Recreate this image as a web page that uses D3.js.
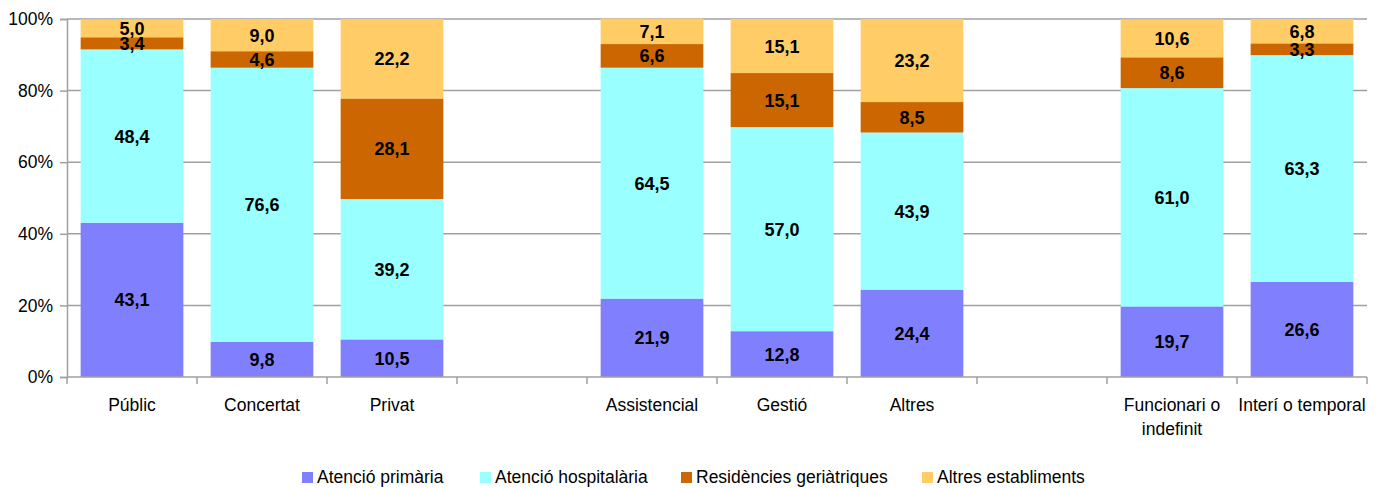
<!DOCTYPE html>
<html>
<head>
<meta charset="utf-8">
<script src="https://cdn.jsdelivr.net/npm/d3@7"></script>
<style>
  body { margin: 0; background: #fff; }
  text { font-family: "Liberation Sans", Arial, sans-serif; }
</style>
</head>
<body>
<svg id="chart"></svg>
<script>
// categories (empty strings are the gaps between groups)
const categories = ["Públic", "Concertat", "Privat", "", "Assistencial", "Gestió", "Altres", "", "Funcionari o|indefinit", "Interí o temporal"];
const seriesNames = ["Atenció primària", "Atenció hospitalària", "Residències geriàtriques", "Altres establiments"];
const primaria = [43.1, 9.8, 10.5, null, 21.9, 12.8, 24.4, null, 19.7, 26.6];
const hospitalaria = [48.4, 76.6, 39.2, null, 64.5, 57.0, 43.9, null, 61.0, 63.3];
const residencies = [3.4, 4.6, 28.1, null, 6.6, 15.1, 8.5, null, 8.6, 3.3];
const altres = [5.0, 9.0, 22.2, null, 7.1, 15.1, 23.2, null, 10.6, 6.8];
const yTicks = [0, 20, 40, 60, 80, 100];
const colors = ["#8080ff", "#99ffff", "#cc6600", "#ffcc66"];

const width = 1376, height = 488;
const margin = { top: 19, right: 9, bottom: 111, left: 67 };

const svg = d3.select("#chart").attr("width", width).attr("height", height);

const x = d3.scaleBand()
    .domain(d3.range(categories.length))
    .range([margin.left, width - margin.right])
    .paddingInner(0.21)
    .paddingOuter(0.105);

const y = d3.scaleLinear().domain([0, 100]).range([height - margin.bottom, margin.top]);

// gridlines
svg.append("g")
    .selectAll("line")
    .data(yTicks.filter(d => d > 0))
    .join("line")
    .attr("x1", margin.left)
    .attr("x2", width - margin.right)
    .attr("y1", d => y(d))
    .attr("y2", d => y(d))
    .attr("stroke", "#a0a0a0")
    .attr("stroke-width", 1.5);

// stacked data
const rows = categories.map((c, i) => ({
    i: i,
    s0: primaria[i], s1: hospitalaria[i], s2: residencies[i], s3: altres[i]
})).filter(d => d.s0 != null);

const stack = d3.stack().keys(["s0", "s1", "s2", "s3"]);
const layers = stack(rows);

const layerG = svg.append("g")
    .selectAll("g")
    .data(layers)
    .join("g")
    .attr("fill", (d, i) => colors[i]);

layerG.selectAll("rect")
    .data(d => d)
    .join("rect")
    .attr("x", d => x(d.data.i))
    .attr("width", x.bandwidth())
    .attr("y", d => y(d[1]))
    .attr("height", d => y(d[0]) - y(d[1]));

// value labels
svg.append("g")
    .selectAll("g")
    .data(layers)
    .join("g")
    .selectAll("text")
    .data(d => d.map(p => ({ p: p, v: p.data[d.key] })))
    .join("text")
    .attr("x", d => x(d.p.data.i) + x.bandwidth() / 2)
    .attr("y", d => y((d.p[0] + d.p[1]) / 2) + 6.5)
    .attr("text-anchor", "middle")
    .attr("font-size", 18)
    .attr("font-weight", "bold")
    .attr("fill", "#000")
    .text(d => d3.format(".1f")(d.v).replace(".", ","));

// y axis
const yAxis = svg.append("g")
    .attr("transform", `translate(${margin.left},0)`)
    .call(d3.axisLeft(y).tickValues(yTicks).tickSize(7).tickFormat(d => d + "%"));
yAxis.select(".domain").attr("stroke", "#a0a0a0").attr("stroke-width", 1.5);
yAxis.selectAll(".tick line").attr("stroke", "#a0a0a0").attr("stroke-width", 1.5);
yAxis.selectAll(".tick text").attr("font-size", 17.5).attr("fill", "#000").attr("x", -14)
    .style("font-family", "'Liberation Sans', Arial, sans-serif");

// x axis with ticks on band boundaries
const xAxisG = svg.append("g");
const baseY = y(0);
xAxisG.append("line")
    .attr("x1", margin.left).attr("x2", width - margin.right)
    .attr("y1", baseY).attr("y2", baseY)
    .attr("stroke", "#a0a0a0").attr("stroke-width", 1.5);
const boundaries = d3.range(categories.length + 1).map(i => margin.left + i * (width - margin.right - margin.left) / categories.length);
xAxisG.selectAll("line.tk")
    .data(boundaries)
    .join("line")
    .attr("class", "tk")
    .attr("x1", d => d).attr("x2", d => d)
    .attr("y1", baseY).attr("y2", baseY + 7)
    .attr("stroke", "#a0a0a0").attr("stroke-width", 1.5);

xAxisG.selectAll("text")
    .data(categories.map((c, i) => ({ c: c, i: i })).filter(d => d.c))
    .join("text")
    .attr("x", d => x(d.i) + x.bandwidth() / 2)
    .attr("y", baseY + 34)
    .attr("text-anchor", "middle")
    .attr("font-size", 17.5)
    .attr("fill", "#000")
    .each(function (d) {
        const lines = d.c.split("|");
        d3.select(this).selectAll("tspan")
            .data(lines)
            .join("tspan")
            .attr("x", x(d.i) + x.bandwidth() / 2)
            .attr("dy", (l, k) => k === 0 ? 0 : 24)
            .text(l => l);
    });

// legend
const legendX = [302, 480, 681, 922];
const legend = svg.append("g")
    .selectAll("g")
    .data(seriesNames)
    .join("g")
    .attr("transform", (d, i) => `translate(${legendX[i]},472)`);
legend.append("rect").attr("width", 11).attr("height", 11).attr("fill", (d, i) => colors[i]);
legend.append("text").attr("x", 15).attr("y", 11).attr("font-size", 17.5).attr("fill", "#000").text(d => d);
</script>
</body>
</html>
